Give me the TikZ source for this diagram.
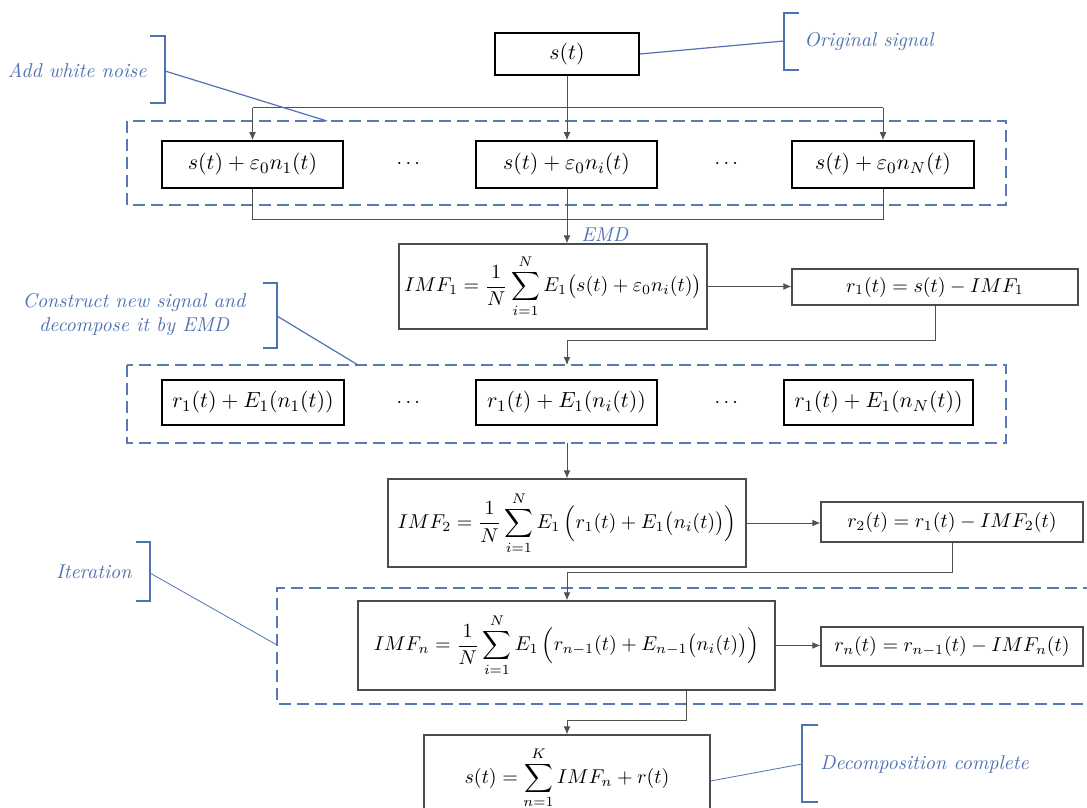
\documentclass[tikz,border=0pt]{standalone}
\usepackage{amsmath}
\usetikzlibrary{arrows.meta}
\definecolor{notecol}{RGB}{79,114,178}
\definecolor{groupcol}{RGB}{88,122,180}
\definecolor{wirecol}{RGB}{80,80,80}
\tikzset{
  sigbox/.style={draw=black, line width=0.8pt, inner sep=0pt, font=\fontsize{11}{13}\selectfont},
  calcbox/.style={draw=black!70, line width=0.6pt, inner sep=0pt},
  group/.style={draw=groupcol, line width=0.8pt, dash pattern=on 6pt off 3pt},
  wire/.style={draw=wirecol, line width=0.5pt},
  flow/.style={wire, -{Latex[length=4pt,width=3.4pt]}},
  note/.style={text=notecol, font=\itshape, inner sep=1pt},
  brace/.style={draw=notecol, line width=1pt},
  leader/.style={draw=notecol, line width=0.6pt},
}
\begin{document}
\begin{tikzpicture}[x=0.5pt, y=-0.5pt]
    \useasboundingbox (0,0) rectangle (1087,808);
    \clip (0,0) rectangle (1087,808);
    % input signal
    \node[sigbox, minimum width=72pt, minimum height=21pt] (st) at (567,54) {$s(t)$};
    % noisy copies
    \draw[group] (127,121) rectangle (1006,205);
    \coordinate (g1n) at (327,121);
    \node[sigbox, minimum width=90.5pt, minimum height=23.5pt] (a1) at (252.5,164.5) {$s(t)+\varepsilon_0 n_1(t)$};
    \node[sigbox, minimum width=90.5pt, minimum height=23.5pt] (a2) at (566.5,164.5) {$s(t)+\varepsilon_0 n_i(t)$};
    \node[sigbox, minimum width=91pt, minimum height=23.5pt] (a3) at (883,164.5) {$s(t)+\varepsilon_0 n_N(t)$};
    \node (d1) at (410,164) {$\cdots$};
    \node (d2) at (728,164) {$\cdots$};
    \coordinate (fan) at (567,108);
    \coordinate (join) at (567,219);
    \draw[flow] (st.south) -- (st.south |- a2.north);
    \draw[wire] (a1.north |- fan) -- (a3.north |- fan);
    \draw[flow] (a1.north |- fan) -- (a1.north);
    \draw[flow] (a3.north |- fan) -- (a3.north);
    \draw[wire] (a1.south) -- (a1.south |- join) -- (a3.south |- join) -- (a3.south);
    % first mode
    \node[calcbox, minimum width=154pt, minimum height=42.5pt] (imf1) at (553,286.5)
        {$IMF_1=\dfrac{1}{N}\displaystyle\sum_{i=1}^{N}E_1\big(s(t)+\varepsilon_0 n_i(t)\big)$};
    \node[calcbox, minimum width=143pt, minimum height=18pt] (r1) at (935,287) {$r_1(t)=s(t)-IMF_1$};
    \draw[flow] (st.south |- a2.south) -- (st.south |- imf1.north);
    \node[note, anchor=west] (emd) at (579,235) {EMD};
    \draw[flow] (imf1.east) -- (imf1.east -| r1.west);
    % new signals
    \draw[group] (127,365) rectangle (1006,443);
    \coordinate (g2n) at (358,365);
    \coordinate (g2s) at (567,443);
    \node[sigbox, minimum width=91pt, minimum height=22.5pt] (b1) at (253,402.5) {$r_1(t)+E_1(n_1(t))$};
    \node[sigbox, minimum width=90.5pt, minimum height=22.5pt] (b2) at (566.5,402.5) {$r_1(t)+E_1(n_i(t))$};
    \node[sigbox, minimum width=94.5pt, minimum height=22.5pt] (b3) at (878.5,402.5) {$r_1(t)+E_1(n_N(t))$};
    \node (d3) at (410,403) {$\cdots$};
    \node (d4) at (728,403) {$\cdots$};
    \coordinate (turn1) at (567,340);
    \draw[flow] (r1.south) |- (turn1) -- (turn1 |- g2n);
    % second mode
    \node[calcbox, minimum width=179pt, minimum height=44pt] (imf2) at (567,523)
        {$IMF_2=\dfrac{1}{N}\displaystyle\sum_{i=1}^{N}E_1\,\Big(r_1(t)+E_1\big(n_i(t)\big)\Big)$};
    \node[calcbox, minimum width=131pt, minimum height=20pt] (r2) at (952,522) {$r_2(t)=r_1(t)-IMF_2(t)$};
    \draw[flow] (g2s) -- (g2s |- imf2.north);
    \draw[flow] (imf2.east) -- (imf2.east -| r2.west);
    % iteration
    \draw[group] (1095,588) -- (277,588) -- (277,704) -- (1095,704);
    \coordinate (g3w) at (277,645);
    \node[calcbox, minimum width=208.5pt, minimum height=44.5pt] (imfn) at (566.5,645.5)
        {$IMF_n=\dfrac{1}{N}\displaystyle\sum_{i=1}^{N}E_1\,\Big(r_{n-1}(t)+E_{n-1}\big(n_i(t)\big)\Big)$};
    \node[calcbox, minimum width=131pt, minimum height=19.5pt] (rn) at (952,646.5) {$r_n(t)=r_{n-1}(t)-IMF_n(t)$};
    \coordinate (turn2) at (567,572);
    \draw[flow] (r2.south) |- (turn2) -- (turn2 |- imfn.north);
    \draw[flow] (imfn.east) -- (imfn.east -| rn.west);
    % result
    \node[calcbox, minimum width=143pt, minimum height=42.5pt] (fin) at (567,777.5)
        {$s(t)=\displaystyle\sum_{n=1}^{K}IMF_n+r(t)$};
    \coordinate (tap) at (686,720);
    \coordinate (turn3) at (567,720);
    \draw[flow] (imfn.south -| tap) -- (tap) -- (turn3) -- (turn3 |- fin.north);
    % notes
    \node[note, anchor=west] (norig) at (802,42) {Original signal};
    \draw[brace] (799,13) -- (784,13) -- (784,70) -- (799,70);
    \draw[leader] (st.east) -- (784,41);
    \node[note, anchor=east] (nwhite) at (149,70) {Add white noise};
    \draw[brace] (150,36) -- (165,36) -- (165,103) -- (150,103);
    \draw[leader] (165,71) -- (g1n);
    \node[note, align=center] (nnew) at (134,314) {Construct new signal and\\decompose it by EMD};
    \draw[brace] (263,283) -- (277,283) -- (277,348) -- (263,348);
    \draw[leader] (277,316) -- (g2n);
    \node[note, anchor=east] (niter) at (134,572) {Iteration};
    \draw[brace] (136,542) -- (150,542) -- (150,601) -- (136,601);
    \draw[leader, line width=0.4pt] (150,573) -- (g3w);
    \node[note, anchor=west] (ndone) at (818,764) {Decomposition complete};
    \draw[brace] (818,725) -- (802,725) -- (802,802) -- (818,802);
    \draw[leader, line width=0.4pt] (fin.east |- 0,781) -- (802,764);
\end{tikzpicture}
\end{document}
